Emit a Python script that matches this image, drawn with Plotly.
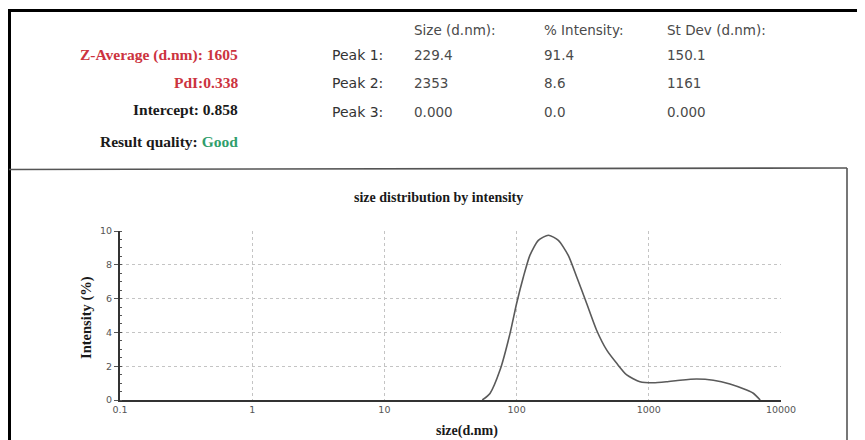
import plotly.graph_objects as go

# ---- data ----
size_nm = [55, 62.9, 74.9, 89.2, 100, 112.5, 126, 146, 174, 207, 246, 285, 339, 403, 481,
           572, 681, 857, 1081, 1364, 1722, 2300, 3077, 4110, 5500, 6170, 6960]
intensity = [0, 0.39, 1.77, 3.94, 5.71, 7.28, 8.56, 9.45, 9.75, 9.45, 8.56, 7.28, 5.71, 4.13, 2.95,
             2.17, 1.48, 1.08, 1.02, 1.08, 1.17, 1.24, 1.17, 0.95, 0.59, 0.40, 0]

x_tickvals = [0.1, 1, 10, 100, 1000, 10000]
x_ticktext = ["0.1", "1", "10", "100", "1000", "10000"]
y_tickvals = [0, 2, 4, 6, 8, 10]

summary_labels = ["Z-Average (d.nm): 1605", "PdI:0.338", "Intercept: 0.858", "Result quality: "]
quality = "Good"
peak_labels = ["Peak 1:", "Peak 2:", "Peak 3:"]
col_headers = ["Size (d.nm):", "% Intensity:", "St Dev (d.nm):"]
peak_sizes = ["229.4", "2353", "0.000"]
peak_int = ["91.4", "8.6", "0.0"]
peak_sd = ["150.1", "1161", "0.000"]

# ---- layout geometry ----
# The page body has an 8px margin, so the figure is drawn at screen (8, 8).
OFF = 8
FW, FH = 865 - OFF, 440 - OFF
PLOT_L, PLOT_R, PLOT_T, PLOT_B = 120, 781, 231, 400   # screen pixels of the plot area
L = PLOT_L - OFF
R = FW - (PLOT_R - OFF)
T = PLOT_T - OFF
B = FH - (PLOT_B - OFF)
W = PLOT_R - PLOT_L
H = PLOT_B - PLOT_T


def px(x):   # screen x -> paper
    return (x - PLOT_L) / W


def py(y):   # screen y -> paper
    return (PLOT_B - y) / H


SERIF = "Liberation Serif"
SANS = "DejaVu Sans"
RED = "#cc3340"
GREEN = "#2f9e6c"
GRAY = "#4a4a4a"

fig = go.Figure()
fig.add_trace(go.Scatter(x=size_nm, y=intensity, mode="lines",
                         line=dict(color="#5a5a5a", width=1.6, shape="spline", smoothing=0.6),
                         showlegend=False, hoverinfo="skip"))

ann = []
colors = [RED, RED, "#1a1a1a", "#1a1a1a"]
ys = [55, 82, 110, 141]
for i, (t, c, y) in enumerate(zip(summary_labels, colors, ys)):
    txt = t if i < 3 else t + f"<span style='color:{GREEN}'>{quality}</span>"
    ann.append(dict(x=px(240), y=py(y), xref="paper", yref="paper", text=f"<b>{txt}</b>",
                    showarrow=False, xanchor="right", yanchor="middle",
                    font=dict(family=SERIF, size=15.5, color=c)))
for t, x in zip(col_headers, [412, 542, 665]):
    ann.append(dict(x=px(x), y=py(30), xref="paper", yref="paper", text=t, showarrow=False,
                    xanchor="left", yanchor="middle", font=dict(family=SANS, size=13.5, color=GRAY)))
rows_y = [55, 83, 112]
for lab, s, it, sd, y in zip(peak_labels, peak_sizes, peak_int, peak_sd, rows_y):
    ann.append(dict(x=px(330), y=py(y), xref="paper", yref="paper", text=lab, showarrow=False,
                    xanchor="left", yanchor="middle", font=dict(family=SANS, size=14, color="#333")))
    for t, x in zip([s, it, sd], [412, 542, 665]):
        ann.append(dict(x=px(x), y=py(y), xref="paper", yref="paper", text=t, showarrow=False,
                        xanchor="left", yanchor="middle", font=dict(family=SANS, size=13.5, color=GRAY)))
ann.append(dict(x=px(438), y=py(198), xref="paper", yref="paper",
                text="<b>size distribution by intensity</b>", showarrow=False,
                xanchor="center", yanchor="middle", font=dict(family=SERIF, size=14, color="#1a1a1a")))
ann.append(dict(x=px(86), y=py(318), xref="paper", yref="paper", text="<b>Intensity (%)</b>",
                showarrow=False, textangle=-90, xanchor="center", yanchor="middle",
                font=dict(family=SERIF, size=14.5, color="#1a1a1a")))
ann.append(dict(x=px(467), y=py(431), xref="paper", yref="paper", text="<b>size(d.nm)</b>",
                showarrow=False, xanchor="center", yanchor="middle",
                font=dict(family=SERIF, size=14, color="#1a1a1a")))

shapes = [
    dict(type="line", xref="paper", yref="paper", x0=px(9.5), x1=px(9.5), y0=py(9), y1=py(442),
         line=dict(color="black", width=3)),
    dict(type="line", xref="paper", yref="paper", x0=px(8), x1=px(866), y0=py(10.5), y1=py(10.5),
         line=dict(color="black", width=3)),
    dict(type="line", xref="paper", yref="paper", x0=px(9), x1=px(847), y0=py(169.5), y1=py(168),
         line=dict(color="#555", width=1.6)),
    dict(type="line", xref="paper", yref="paper", x0=px(847), x1=px(847), y0=py(168), y1=py(442),
         line=dict(color="#555", width=1.6)),
]

fig.update_layout(
    width=FW, height=FH,
    margin=dict(l=L, r=R, t=T, b=B),
    paper_bgcolor="white", plot_bgcolor="white",
    annotations=ann, shapes=shapes,
    xaxis=dict(type="log", range=[-1, 4], tickvals=x_tickvals, ticktext=x_ticktext,
               showgrid=True, gridcolor="#c4c4c4", griddash="dot", gridwidth=1,
               showline=True, linecolor="#333", linewidth=1.5, zeroline=False,
               ticks="", tickfont=dict(family=SANS, size=9.5, color="#555")),
    yaxis=dict(range=[0, 10], tickvals=y_tickvals, showgrid=True, gridcolor="#c4c4c4",
               griddash="dot", gridwidth=1, showline=True, linecolor="#333", linewidth=2,
               zeroline=False, ticks="outside", ticklen=4, tickcolor="#555",
               minor=dict(dtick=0.5, ticks="inside", ticklen=2, tickcolor="#555"),
               tickfont=dict(family=SANS, size=9.5, color="#555")),
)

fig.write_html("out.html")
